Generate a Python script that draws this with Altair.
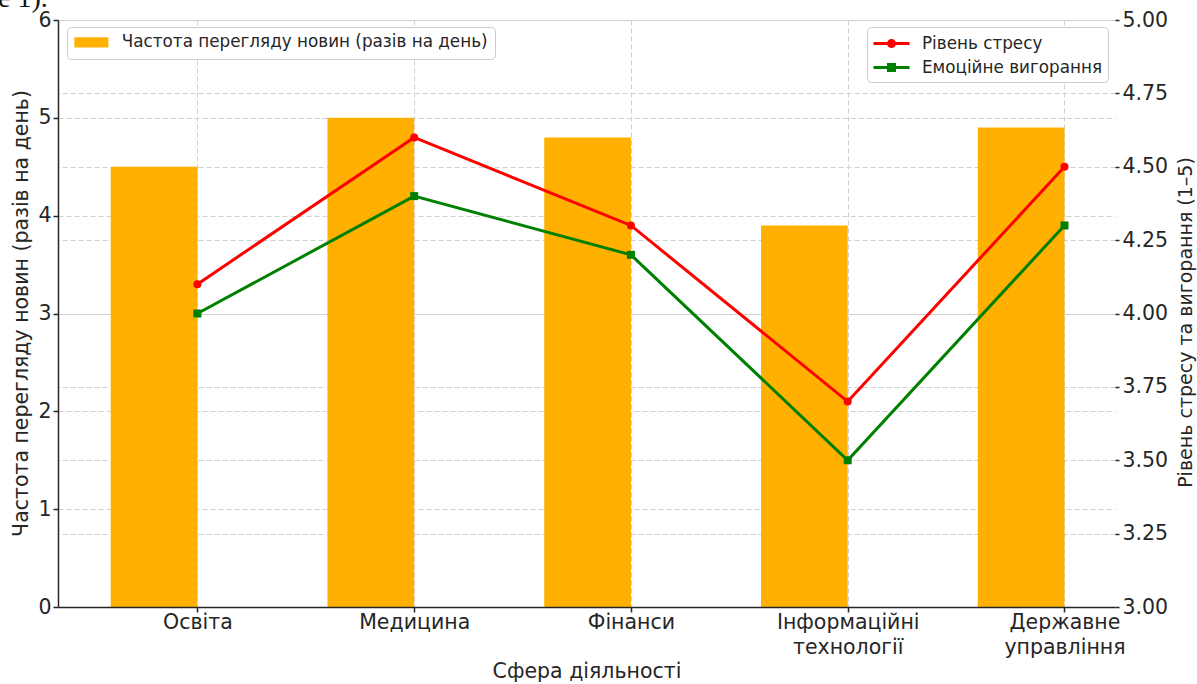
import altair as alt
import pandas as pd

# Sectors and survey averages
categories = ["Освіта", "Медицина", "Фінанси", "Інформаційні технології", "Державне управління"]
news_per_day = [4.5, 5.0, 4.8, 3.9, 4.9]
stress_level = [4.1, 4.6, 4.3, 3.7, 4.5]
burnout_level = [4.0, 4.4, 4.2, 3.5, 4.3]

bar_name = "Частота перегляду новин (разів на день)"
stress_name = "Рівень стресу"
burnout_name = "Емоційне вигорання"
x_title = "Сфера діяльності"
right_title = "Рівень стресу та вигорання (1–5)"
note_text = ["е 1)."]

df = pd.DataFrame({
    "idx": list(range(len(categories))),
    "category": categories,
    "news": news_per_day,
    "stress": stress_level,
    "burnout": burnout_level,
})

FONT = "DejaVu Sans"
INK = "#262626"
ORANGE = "#FFB000"
FS = 20.5

idx_values = list(range(len(categories)))
label_list = "[" + ",".join("'" + c + "'" for c in categories) + "]"
x_scale = alt.Scale(domain=[-0.62, 4.21], nice=False, zero=False)

# grid-only x axis (behind the bars) and the labelled x axis (in front)
x_grid_axis = alt.Axis(orient="bottom", values=idx_values, grid=True, labels=False,
                       ticks=False, domain=False, title=None, zindex=0)
x_main_axis = alt.Axis(orient="bottom", values=idx_values, grid=False, zindex=1,
                       labelExpr=f"split({label_list}[datum.value], ' ')",
                       labelBaseline="alphabetic", labelPadding=16, labelLineHeight=25,
                       title=x_title, titleY=70, titleBaseline="alphabetic")

left_axis = alt.Axis(values=list(range(0, 7)), grid=True, title=bar_name,
                     titleAngle=270, titleX=-31, titleY=293, titleAlign="center",
                     titleBaseline="alphabetic", labelPadding=2)
right_axis = alt.Axis(orient="right", values=[3 + 0.25 * i for i in range(9)], format=".2f",
                      grid=True, domain=False, title=right_title, titleAngle=270,
                      titleX=76, titleY=302, titleAlign="center", titleBaseline="alphabetic",
                      titleFontSize=19, labelPadding=3, tickSize=4)
right_scale = alt.Scale(domain=[3, 5], nice=False, zero=False)


def right_y(field):
    return alt.Y(field, scale=right_scale, axis=right_axis, title=right_title)


def main_x(field="idx:Q"):
    return alt.X(field, scale=x_scale, axis=x_main_axis, title=x_title)


# vertical bars sit just left of each category position
bars = alt.Chart(df).transform_calculate(
    x0="datum.idx - 0.4", base="0", series=f"'{bar_name}'"
).mark_bar(orient="vertical").encode(
    x=alt.X("x0:Q", scale=x_scale, axis=x_grid_axis),
    x2="idx:Q",
    y=alt.Y("news:Q", scale=alt.Scale(domain=[0, 6], nice=False, padding=0),
            axis=left_axis, title=bar_name),
    y2="base:Q",
    color=alt.Color("series:N", scale=alt.Scale(domain=[bar_name], range=[ORANGE]),
                    legend=alt.Legend(title=None, orient="none", legendX=9, legendY=7,
                                      symbolType="M-1,-0.65H3.25V0.65H-1Z", symbolSize=256,
                                      symbolStrokeWidth=0, labelOffset=31, padding=7,
                                      labelLimit=0, fillColor="white",
                                      strokeColor="#cccccc", cornerRadius=4)),
)

stress_line = alt.Chart(df).mark_line(color="red", strokeWidth=3).encode(
    x=main_x(), y=right_y("stress:Q"))
stress_pts = alt.Chart(df).mark_point(shape="circle", filled=True, opacity=1, size=64,
                                      color="red").encode(x=main_x(), y=right_y("stress:Q"))
burn_line = alt.Chart(df).mark_line(color="green", strokeWidth=3).encode(
    x=main_x(), y=right_y("burnout:Q"))
burn_pts = alt.Chart(df).mark_point(shape="square", filled=True, opacity=1, size=64,
                                    color="green").encode(x=main_x(), y=right_y("burnout:Q"))

# legend entries drawn as line + marker
circle_path = "M-1,0H2.6M0.5,0A0.3,0.3,0,1,1,1.1,0A0.3,0.3,0,1,1,0.5,0Z"
square_path = "M-1,0H2.6M0.5,-0.3H1.1V0.3H0.5Z"
series_domain = [stress_name, burnout_name]
line_legend = alt.Legend(title=None, orient="none", legendX=809, legendY=7,
                         symbolSize=400, symbolStrokeWidth=3, labelOffset=27,
                         padding=5, rowPadding=3, labelLimit=0, fillColor="white",
                         strokeColor="#cccccc", cornerRadius=4)
legend_layer = alt.Chart(df).transform_fold(
    ["stress", "burnout"], as_=["key", "val"]
).transform_calculate(
    series=f"datum.key == 'stress' ? '{stress_name}' : '{burnout_name}'"
).mark_point(opacity=0, size=400).encode(
    x=main_x(),
    y=right_y("val:Q"),
    fill=alt.Fill("series:N", scale=alt.Scale(domain=series_domain, range=["red", "green"]),
                  legend=line_legend),
    stroke=alt.Stroke("series:N", scale=alt.Scale(domain=series_domain, range=["red", "green"]),
                      legend=line_legend),
    shape=alt.Shape("series:N", scale=alt.Scale(domain=series_domain,
                                                range=[circle_path, square_path]),
                    legend=line_legend),
)

lines = alt.layer(stress_line, stress_pts, burn_line, burn_pts, legend_layer)

note = alt.Chart(pd.DataFrame({"t": note_text})).mark_text(
    font="Liberation Serif", fontSize=28, align="left", baseline="alphabetic", color="#111"
).encode(text="t:N", x=alt.value(-60), y=alt.value(-13))

chart = alt.layer(bars, lines, note).resolve_scale(
    y="independent", color="independent"
).resolve_axis(x="independent").properties(
    width=1057, height=587,
    autosize=alt.AutoSizeParams(type="none"),
    padding={"left": 58, "top": 20, "right": 82, "bottom": 77},
    background="white",
).configure_view(stroke=None).configure_axis(
    labelFont=FONT, labelFontSize=FS, labelColor=INK,
    titleFont=FONT, titleFontSize=FS, titleFontWeight="normal", titleColor=INK,
    tickColor=INK, tickSize=5, tickWidth=1.5,
    domainColor=INK, domainWidth=1.5,
    gridColor="#d0d0d0", gridDash=[5, 3], gridWidth=1,
).configure_legend(
    labelFont=FONT, labelFontSize=16.8, labelColor=INK,
)

chart.save("out.html", embed_options={"renderer": "svg", "actions": False})
